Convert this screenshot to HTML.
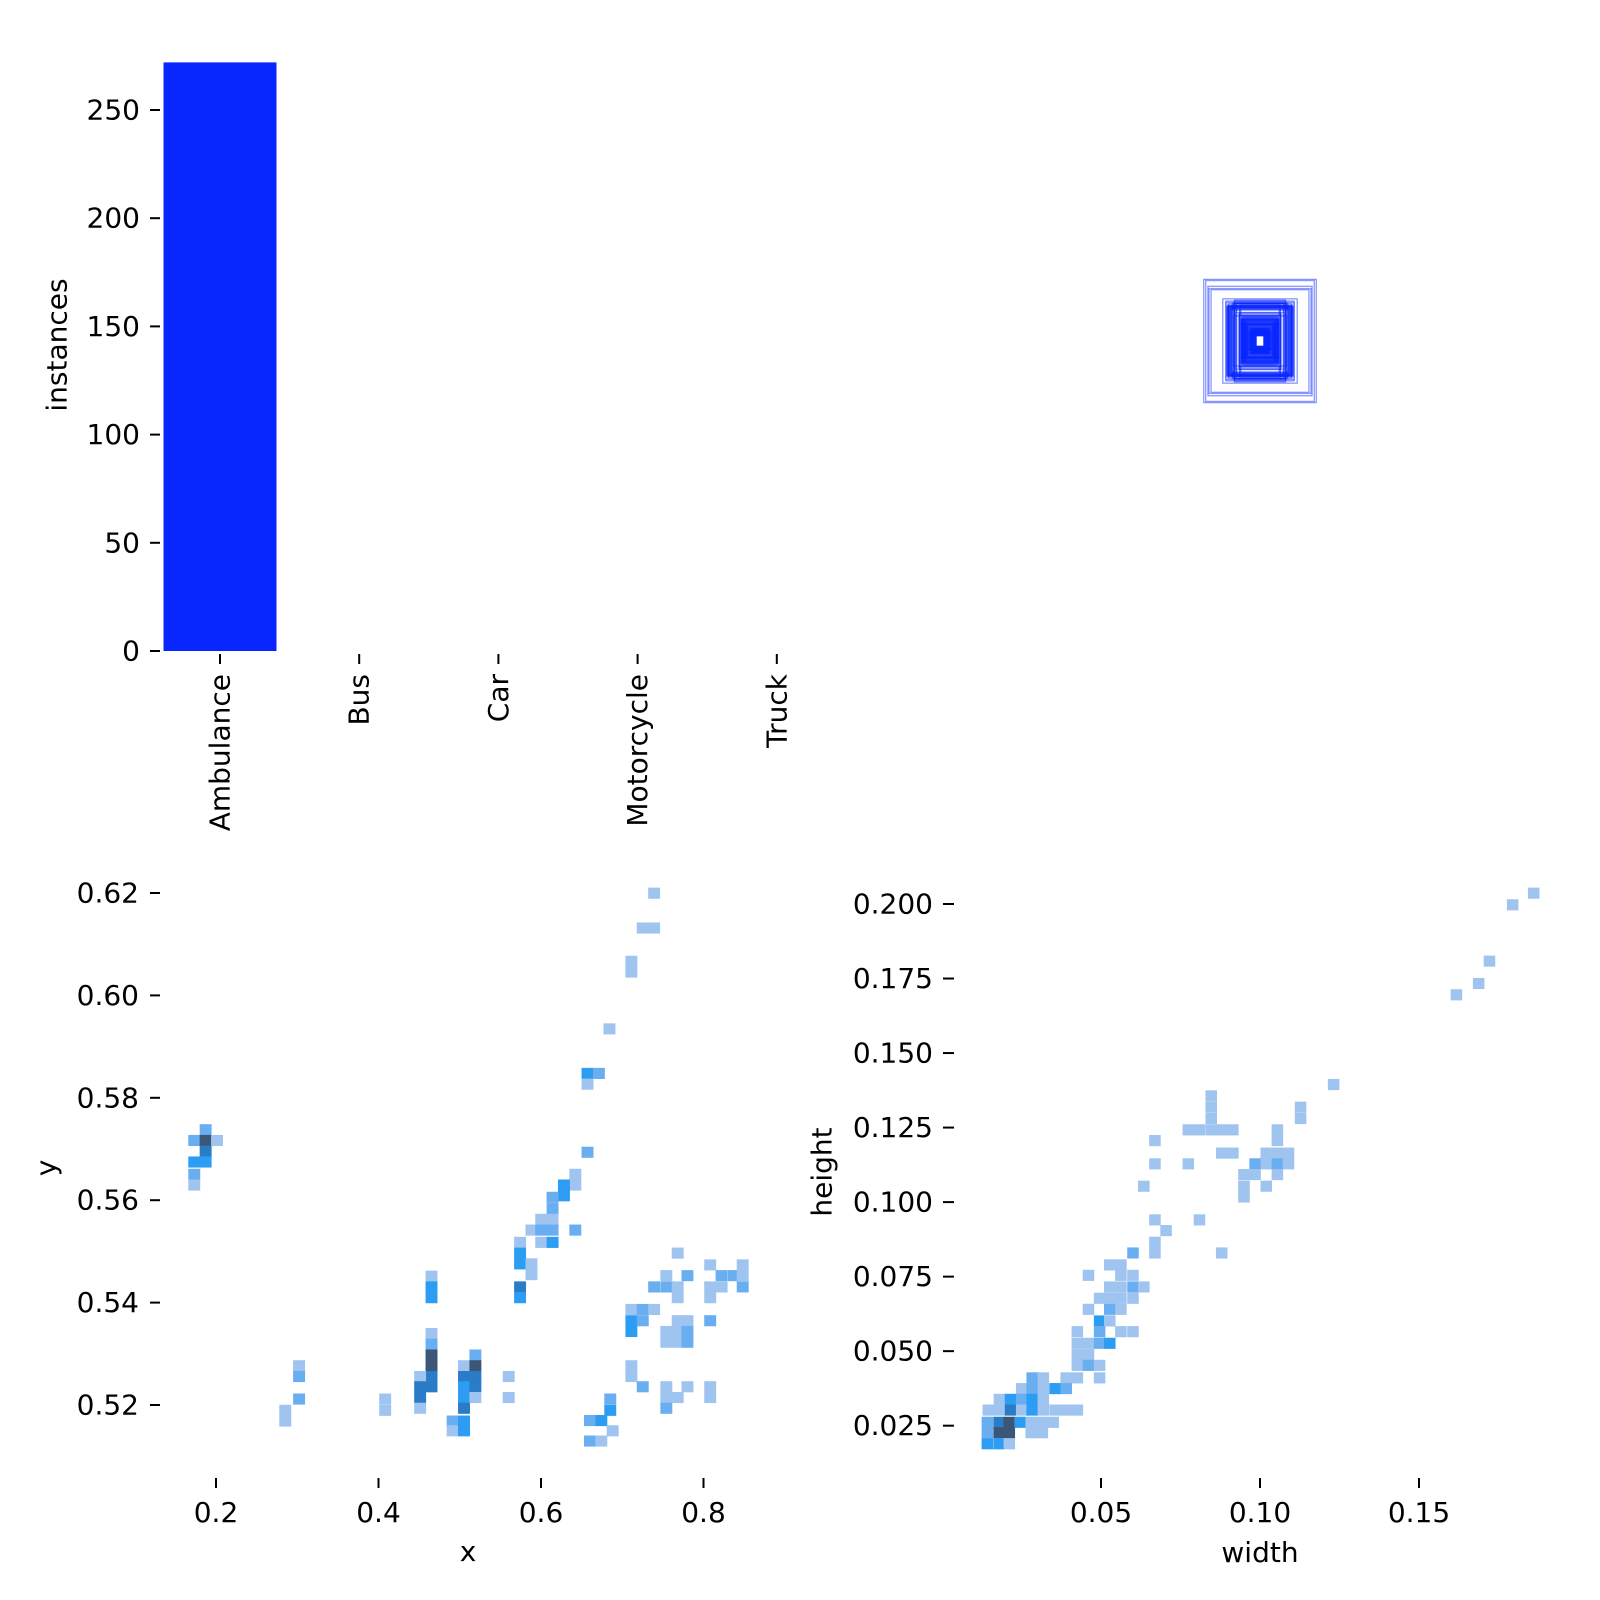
<!DOCTYPE html>
<html><head><meta charset="utf-8"><title>labels</title>
<style>
html,body{margin:0;padding:0;background:#fff;}
svg{display:block;font-family:"DejaVu Sans","Liberation Sans",sans-serif;}
</style></head>
<body>
<svg id="chart" width="1600" height="1600" viewBox="0 0 1600 1600" xmlns="http://www.w3.org/2000/svg">
<rect x="0" y="0" width="1600" height="1600" fill="#ffffff"/>
</svg>
<script>
// ---- bar chart data ----
const categories = ['Ambulance','Bus','Car','Motorcycle','Truck'];
const instanceCounts = [272, 0, 0, 0, 0];
const barTicks = [0, 50, 100, 150, 200, 250];
const barTickLabels = ['0','50','100','150','200','250'];

// ---- x / y histogram data ----
const xyTicksX = [0.2, 0.4, 0.6, 0.8];
const xyTickLabelsX = ['0.2','0.4','0.6','0.8'];
const xyTicksY = [0.52, 0.54, 0.56, 0.58, 0.60, 0.62];
const xyTickLabelsY = ['0.52','0.54','0.56','0.58','0.60','0.62'];
const xyBinW = 0.0142;
const xyBinH = 0.00209;
const xyCellX = [0.739,0.725,0.739,0.711,0.711,0.684,0.657,0.671,0.657,0.657,0.642,0.642,0.628,0.628,0.614,0.614,0.600,0.614,0.588,0.600,0.614,0.642,0.574,0.600,0.614,0.574,0.574,0.588,0.588,0.574,0.574,0.465,0.465,0.465,0.187,0.173,0.187,0.201,0.187,0.173,0.187,0.173,0.173,0.768,0.808,0.848,0.754,0.780,0.822,0.837,0.848,0.739,0.754,0.768,0.808,0.822,0.848,0.768,0.808,0.711,0.725,0.739,0.711,0.725,0.768,0.780,0.808,0.711,0.754,0.768,0.780,0.754,0.768,0.780,0.465,0.465,0.465,0.465,0.465,0.465,0.451,0.451,0.451,0.451,0.302,0.302,0.302,0.285,0.285,0.408,0.408,0.519,0.505,0.519,0.505,0.519,0.505,0.519,0.505,0.519,0.505,0.491,0.505,0.491,0.505,0.560,0.560,0.685,0.685,0.711,0.711,0.725,0.754,0.780,0.808,0.754,0.768,0.808,0.754,0.660,0.674,0.688,0.660,0.674];
const xyCellY = [0.6200,0.6132,0.6132,0.6067,0.6046,0.5935,0.5848,0.5848,0.5827,0.5694,0.5651,0.5630,0.5630,0.5609,0.5606,0.5584,0.5563,0.5563,0.5542,0.5542,0.5542,0.5542,0.5518,0.5518,0.5518,0.5497,0.5476,0.5476,0.5455,0.5431,0.5410,0.5452,0.5431,0.5410,0.5738,0.5717,0.5717,0.5717,0.5696,0.5675,0.5675,0.5651,0.5630,0.5497,0.5474,0.5474,0.5453,0.5453,0.5453,0.5453,0.5453,0.5431,0.5431,0.5431,0.5431,0.5431,0.5431,0.5410,0.5410,0.5387,0.5387,0.5387,0.5365,0.5365,0.5365,0.5365,0.5365,0.5344,0.5344,0.5344,0.5344,0.5323,0.5323,0.5323,0.5340,0.5319,0.5298,0.5277,0.5256,0.5236,0.5256,0.5236,0.5215,0.5194,0.5277,0.5256,0.5212,0.5190,0.5169,0.5212,0.5190,0.5298,0.5277,0.5277,0.5256,0.5256,0.5236,0.5236,0.5215,0.5215,0.5194,0.5169,0.5169,0.5150,0.5150,0.5256,0.5215,0.5212,0.5190,0.5277,0.5256,0.5236,0.5236,0.5236,0.5236,0.5215,0.5215,0.5215,0.5194,0.5170,0.5170,0.5150,0.5130,0.5130];
const xyCellLevel = [1,1,1,1,1,1,3,2,1,2,1,1,3,3,2,2,1,1,1,2,2,2,1,1,3,3,3,1,1,4,3,1,3,3,2,2,5,1,4,3,3,2,1,1,1,1,1,2,2,2,1,2,2,1,1,1,2,1,1,1,2,1,3,2,1,1,2,3,1,1,2,1,1,2,1,2,5,5,4,4,1,4,4,1,1,2,2,1,1,1,1,2,1,5,4,4,3,4,3,1,4,2,3,1,3,1,1,2,3,1,1,2,1,1,1,1,1,1,2,2,3,1,2,1];

// ---- width / height histogram data ----
const whTicksX = [0.05, 0.10, 0.15];
const whTickLabelsX = ['0.05','0.10','0.15'];
const whTicksY = [0.025,0.050,0.075,0.100,0.125,0.150,0.175,0.200];
const whTickLabelsY = ['0.025','0.050','0.075','0.100','0.125','0.150','0.175','0.200'];
const whBinW = 0.0035;
const whBinH = 0.0036;
const whCellX = [0.186,0.1794,0.1721,0.1687,0.1617,0.1231,0.0846,0.0846,0.0846,0.0774,0.0809,0.0846,0.0879,0.0914,0.1127,0.1127,0.0669,0.1054,0.1054,0.0879,0.0914,0.1019,0.1054,0.1089,0.0669,0.0774,0.0984,0.1019,0.1054,0.1089,0.0949,0.0984,0.1054,0.0634,0.0949,0.0949,0.1019,0.0669,0.0809,0.0704,0.0669,0.0669,0.0600,0.0879,0.0527,0.0562,0.0460,0.0562,0.0600,0.0527,0.0562,0.0600,0.0634,0.0495,0.0527,0.0562,0.0600,0.0460,0.0527,0.0562,0.0495,0.0527,0.0425,0.0495,0.0562,0.0600,0.0425,0.0460,0.0495,0.0527,0.0425,0.0460,0.0425,0.0460,0.0495,0.0283,0.0318,0.0390,0.0425,0.0495,0.0250,0.0283,0.0318,0.0355,0.0390,0.0180,0.0215,0.0250,0.0283,0.0318,0.0145,0.0180,0.0215,0.0250,0.0283,0.0318,0.0355,0.0390,0.0425,0.0142,0.0179,0.0211,0.0245,0.0280,0.0315,0.0349,0.0142,0.0179,0.0211,0.0280,0.0315,0.0142,0.0179,0.0211];
const whCellY = [0.2037,0.1998,0.1809,0.1734,0.1696,0.1395,0.1357,0.1319,0.1281,0.1243,0.1243,0.1243,0.1243,0.1243,0.1319,0.1281,0.1207,0.1243,0.1207,0.1165,0.1165,0.1165,0.1165,0.1165,0.1129,0.1129,0.1129,0.1129,0.1129,0.1129,0.1093,0.1093,0.1093,0.1054,0.1054,0.1018,0.1054,0.0941,0.0941,0.0905,0.0866,0.0830,0.0830,0.0830,0.0790,0.0790,0.0755,0.0755,0.0755,0.0716,0.0716,0.0716,0.0716,0.0678,0.0678,0.0678,0.0678,0.0641,0.0641,0.0641,0.0602,0.0602,0.0566,0.0566,0.0566,0.0566,0.0527,0.0527,0.0527,0.0527,0.0489,0.0489,0.0453,0.0453,0.0453,0.0411,0.0411,0.0411,0.0411,0.0411,0.0375,0.0375,0.0375,0.0375,0.0375,0.0339,0.0339,0.0339,0.0339,0.0339,0.0303,0.0303,0.0303,0.0303,0.0303,0.0303,0.0303,0.0303,0.0303,0.0262,0.0262,0.0262,0.0262,0.0262,0.0262,0.0262,0.0227,0.0227,0.0227,0.0227,0.0227,0.0190,0.0190,0.0190];
const whCellLevel = [1,1,1,1,1,1,1,1,1,1,1,1,1,1,1,1,1,1,1,1,1,1,1,1,1,1,2,1,2,1,1,1,1,1,1,1,1,1,1,1,1,1,2,1,1,1,1,1,1,1,1,2,1,1,1,1,1,1,2,1,3,1,1,2,1,1,1,1,2,3,1,1,1,2,1,2,1,1,1,1,1,2,1,3,2,1,3,2,3,1,1,1,4,1,3,1,1,1,1,2,4,5,3,1,1,1,2,5,5,1,1,3,3,1];

const levelColors = ['#ffffff','#9ec4ef','#6aaef2','#2c9df3','#2b7cc6','#3b5677'];

const svg = document.getElementById('chart');
const NS = 'http://www.w3.org/2000/svg';
function mk(tag, attrs, parent) {
  const e = document.createElementNS(NS, tag);
  for (const k in attrs) e.setAttribute(k, attrs[k]);
  (parent || svg).appendChild(e);
  return e;
}
function txt(str, attrs, parent) {
  const t = mk('text', attrs, parent);
  t.textContent = str;
  return t;
}
const FS = 28;

// ================= BAR CHART =================
const gBar = mk('g', {});


const barY0 = 651, barPxPerUnit = 2.164;
const barSy = v => barY0 - v * barPxPerUnit;
const catX0 = 220, catStep = 139.2, barW = 113;
const barSx = i => catX0 + i * catStep;
instanceCounts.forEach((v, i) => {
  if (v <= 0) return;
  const r = mk('rect', {x: barSx(i) - barW/2, y: barSy(v), width: barW, height: barY0 - barSy(v), fill: '#0827ff'}, gBar);
  
  
});
barTicks.forEach((v, i) => {
  const y = barSy(v);
  const tk = mk('line', {x1: 150, x2: 160, y1: y, y2: y, stroke: '#000', 'stroke-width': 2}, gBar);
  
  
  const t = txt(barTickLabels[i], {x: 140, y: y, 'font-size': FS, 'text-anchor': 'end', 'dominant-baseline': 'central', fill: '#000'}, gBar);
  
  
});
categories.forEach((c, i) => {
  const x = barSx(i);
  const tk = mk('line', {x1: x, x2: x, y1: 654, y2: 664, stroke: '#000', 'stroke-width': 2}, gBar);
  
  
  const t = txt(c, {x: 0, y: 0, 'font-size': FS, 'text-anchor': 'end', 'dominant-baseline': 'central', fill: '#000', transform: 'translate(' + x + ',674) rotate(-90)'}, gBar);
  
  
});
const instLbl = txt('instances', {x: 0, y: 0, 'font-size': FS, 'text-anchor': 'middle', 'dominant-baseline': 'central', fill: '#000', transform: 'translate(57,345) rotate(-90)'}, gBar);



// ================= BOXES (top-right) =================
const gBox = mk('g', {});


const boxCx = 1260, boxCy = 341, boxScale = 605;
whCellX.forEach((w, i) => {
  const h = whCellY[i];
  const lv = whCellLevel[i];
  const r = mk('rect', {x: boxCx - w*boxScale/2, y: boxCy - h*boxScale/2, width: w*boxScale, height: h*boxScale, fill: 'none', stroke: '#0827ff', 'stroke-width': 0.9 + lv*0.4, 'stroke-opacity': Math.min(1, 0.35 + lv*0.12)}, gBox);
  
  
});

// ================= X/Y HISTOGRAM =================
const gXY = mk('g', {});


const xySx = v => 216 + (v - 0.2) * 812.5;
const xySy = v => 893 + (0.62 - v) * 5120;
xyCellX.forEach((xv, i) => {
  const yv = xyCellY[i];
  const x0 = xySx(xv - xyBinW/2), x1 = xySx(xv + xyBinW/2);
  const y0 = xySy(yv + xyBinH/2), y1 = xySy(yv - xyBinH/2);
  const r = mk('rect', {x: x0, y: y0, width: x1 - x0 + 0.4, height: y1 - y0 + 0.4, fill: levelColors[xyCellLevel[i]]}, gXY);
  
  
});
xyTicksX.forEach((v, i) => {
  const x = xySx(v);
  const tk = mk('line', {x1: x, x2: x, y1: 1478, y2: 1488, stroke: '#000', 'stroke-width': 2}, gXY);
  
  
  const t = txt(xyTickLabelsX[i], {x: x, y: 1522, 'font-size': FS, 'text-anchor': 'middle', fill: '#000'}, gXY);
  
  
});
xyTicksY.forEach((v, i) => {
  const y = xySy(v);
  const tk = mk('line', {x1: 150, x2: 160, y1: y, y2: y, stroke: '#000', 'stroke-width': 2}, gXY);
  
  
  const t = txt(xyTickLabelsY[i], {x: 139, y: y, 'font-size': FS, 'text-anchor': 'end', 'dominant-baseline': 'central', fill: '#000'}, gXY);
  
  
});
const xLbl = txt('x', {x: 468, y: 1561, 'font-size': FS, 'text-anchor': 'middle', fill: '#000'}, gXY);


const yLbl = txt('y', {x: 0, y: 0, 'font-size': FS, 'text-anchor': 'middle', 'dominant-baseline': 'central', fill: '#000', transform: 'translate(46,1168) rotate(-90)'}, gXY);



// ================= WIDTH/HEIGHT HISTOGRAM =================
const gWH = mk('g', {});


const whSx = v => 942 + v * 3180;
const whSy = v => 904 + (0.2 - v) * 2981;
whCellX.forEach((xv, i) => {
  const yv = whCellY[i];
  const x0 = whSx(xv - whBinW/2), x1 = whSx(xv + whBinW/2);
  const y0 = whSy(yv + whBinH/2), y1 = whSy(yv - whBinH/2);
  const r = mk('rect', {x: x0, y: y0, width: x1 - x0 + 0.4, height: y1 - y0 + 0.4, fill: levelColors[whCellLevel[i]]}, gWH);
  
  
});
whTicksX.forEach((v, i) => {
  const x = whSx(v);
  const tk = mk('line', {x1: x, x2: x, y1: 1478, y2: 1488, stroke: '#000', 'stroke-width': 2}, gWH);
  
  
  const t = txt(whTickLabelsX[i], {x: x, y: 1522, 'font-size': FS, 'text-anchor': 'middle', fill: '#000'}, gWH);
  
  
});
whTicksY.forEach((v, i) => {
  const y = whSy(v);
  const tk = mk('line', {x1: 943, x2: 954, y1: y, y2: y, stroke: '#000', 'stroke-width': 2}, gWH);
  
  
  const t = txt(whTickLabelsY[i], {x: 933, y: y, 'font-size': FS, 'text-anchor': 'end', 'dominant-baseline': 'central', fill: '#000'}, gWH);
  
  
});
const wLbl = txt('width', {x: 1260, y: 1562, 'font-size': FS, 'text-anchor': 'middle', fill: '#000'}, gWH);


const hLbl = txt('height', {x: 0, y: 0, 'font-size': FS, 'text-anchor': 'middle', 'dominant-baseline': 'central', fill: '#000', transform: 'translate(822,1172) rotate(-90)'}, gWH);


</script>
</body></html>
